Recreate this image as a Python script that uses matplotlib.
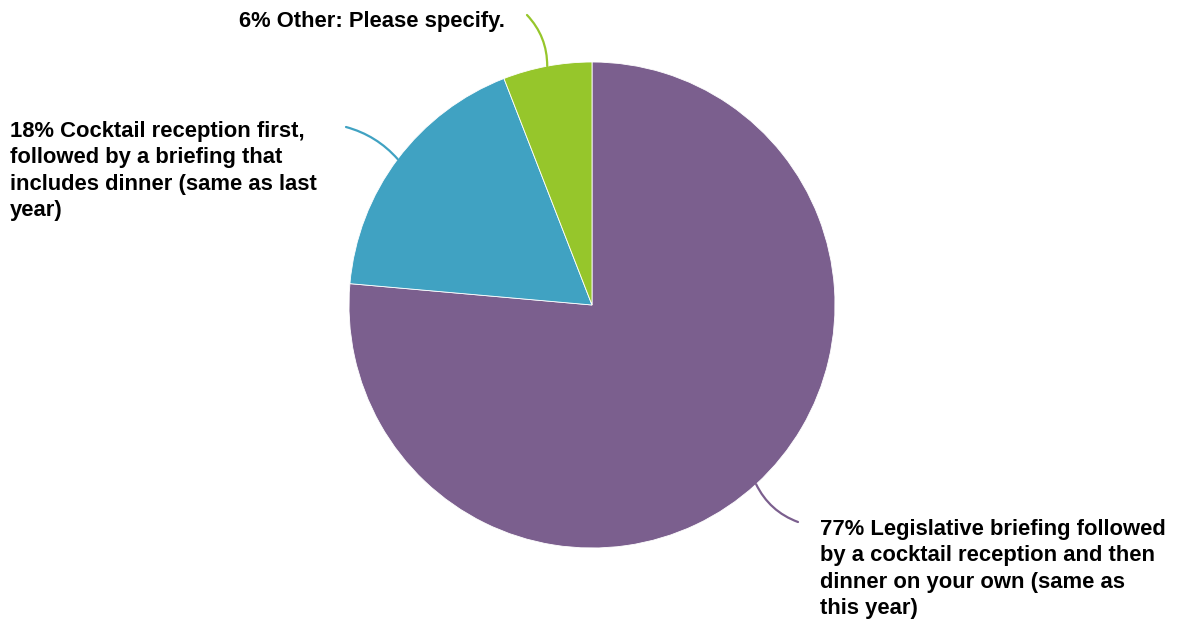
import numpy as np
import matplotlib
matplotlib.use("Agg")
from matplotlib import pyplot as plt

# survey shares (percent), clockwise from 12 o'clock
labels = ["77% Legislative briefing followed\nby a cocktail reception and then\ndinner on your own (same as\nthis year)",
          "18% Cocktail reception first,\nfollowed by a briefing that\nincludes dinner (same as last\nyear)",
          "6% Other: Please specify."]
values = [76.4, 17.7, 5.9]
colors = ["#7b5f8e", "#40a2c2", "#96c62b"]

W, H = 1185, 630
fig = plt.figure(figsize=(W / 100, H / 100), dpi=100)
ax = fig.add_axes([0, 0, 1, 1])

cx, cy, r = 592, H - 305, 243
wedges, _ = ax.pie(values, colors=colors, startangle=90, counterclock=False,
                   center=(cx, cy), radius=r, frame=True,
                   wedgeprops=dict(edgecolor="white", linewidth=0.6))
ax.set_xlim(0, W)
ax.set_ylim(0, H)
ax.set_aspect("equal")
ax.axis("off")

# label placement: (text x, text y, ha, va, line end x, line end y, curvature)
layout = [
    (820, H - 519, "left", "top", 798, H - 522, 0.2),
    (10, H - 121, "left", "top", 346, H - 127, 0.15),
    (505, H - 21, "right", "center", 527, H - 15, 0.2),
]

for w, lab, (tx, ty, ha, va, lx, ly, rad) in zip(wedges, labels, layout):
    ang = np.deg2rad((w.theta1 + w.theta2) / 2)
    ex, ey = cx + r * np.cos(ang), cy + r * np.sin(ang)
    ax.annotate("", xy=(lx, ly), xytext=(ex, ey),
                arrowprops=dict(arrowstyle="-", color=w.get_facecolor(), lw=1.6,
                                connectionstyle="arc3,rad=%s" % rad,
                                shrinkA=0, shrinkB=0))
    ax.text(tx, ty, lab, ha=ha, va=va, fontsize=15.8, fontweight="bold",
            family="Liberation Sans", linespacing=1.33, color="black")

fig.savefig("out.png", dpi=100)
